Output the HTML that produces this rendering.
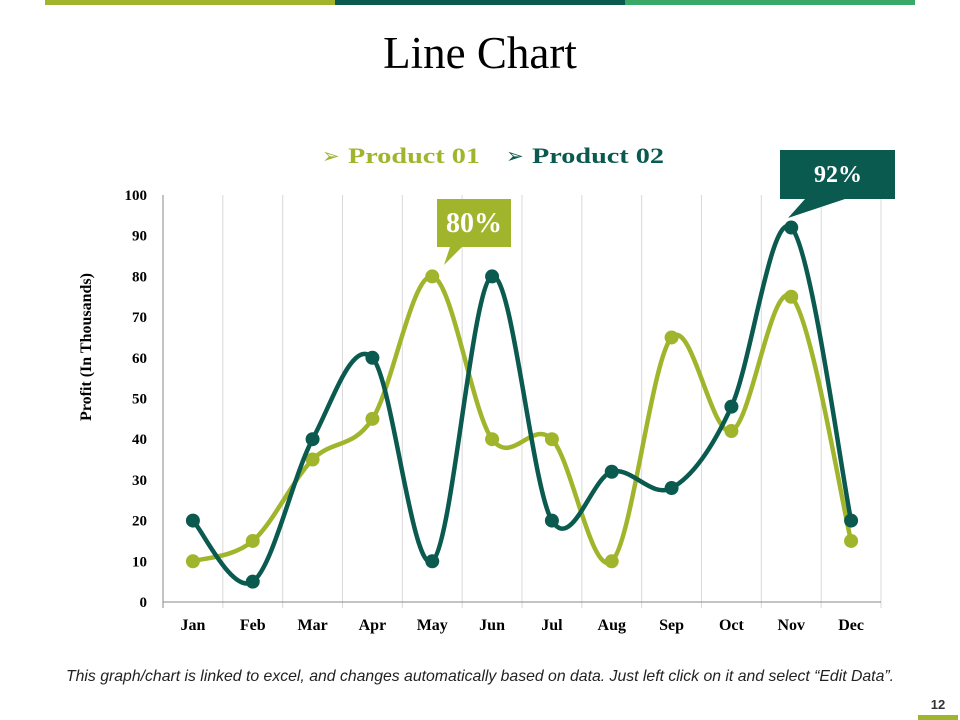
<!DOCTYPE html>
<html><head><meta charset="utf-8"><style>
body{margin:0;width:960px;height:720px;background:#fff;overflow:hidden;font-family:"Liberation Serif",serif;position:relative}
.abs{position:absolute}
</style></head><body>
<div class="abs" style="left:45px;top:0;width:290px;height:5px;background:#a1b52c"></div>
<div class="abs" style="left:335px;top:0;width:290px;height:5px;background:#0b5a50"></div>
<div class="abs" style="left:625px;top:0;width:290px;height:5px;background:#3aa866"></div>
<div class="abs" style="left:0;width:960px;top:27px;text-align:center;font-size:45px;color:#000">Line Chart</div>
<svg class="abs" style="left:0;top:0" width="960" height="720" id="chart"></svg>
<div class="abs" style="left:0;width:960px;top:668px;text-align:center;font-family:'Liberation Sans',sans-serif;font-style:italic;font-size:15.8px;color:#222;white-space:nowrap">This graph/chart is linked to excel, and changes automatically based on data. Just left click on it and select “Edit Data”.</div>
<div class="abs" style="left:918px;width:40px;top:697px;text-align:center;font-family:'Liberation Sans',sans-serif;font-weight:bold;font-size:13px;color:#333">12</div>
<div class="abs" style="left:918px;top:715px;width:40px;height:5px;background:#a1b52c"></div>
<script>
const categories=["Jan","Feb","Mar","Apr","May","Jun","Jul","Aug","Sep","Oct","Nov","Dec"];
const product01=[10,15,35,45,80,40,40,10,65,42,75,15];
const product02=[20,5,40,60,10,80,20,32,28,48,92,20];
const yTicks=[0,10,20,30,40,50,60,70,80,90,100];
const NS="http://www.w3.org/2000/svg";
const svg=document.getElementById('chart');
const X0=163,X1=881,Y0=602,Y1=195;
const bw=(X1-X0)/categories.length;
const x=i=>X0+bw*(i+0.5);
const y=v=>Y0-(v/100)*(Y0-Y1);
function mk(t,a){const e=document.createElementNS(NS,t);for(const k in a)e.setAttribute(k,a[k]);svg.appendChild(e);return e;}
for(let i=0;i<=categories.length;i++){
 const g=mk('line',{x1:X0+bw*i,x2:X0+bw*i,y1:Y1,y2:Y0+6,stroke:i==0?'#888':'#d9d9d9','stroke-width':1});
 
 
}
const ax=mk('line',{x1:X0,x2:X1,y1:Y0,y2:Y0,stroke:'#888'});


yTicks.forEach(v=>{const t=mk('text',{x:147,y:y(v)+5,'text-anchor':'end','font-size':15,'font-weight':'bold','font-family':'Liberation Serif, serif'});t.textContent=v;
 
 });
categories.forEach((c,i)=>{const t=mk('text',{x:x(i),y:630,'text-anchor':'middle','font-size':16,'font-weight':'bold','font-family':'Liberation Serif, serif'});t.textContent=c;
 
 });
const yt=mk('text',{x:0,y:0,transform:'translate(91,347) rotate(-90)','text-anchor':'middle','font-size':16,'font-weight':'bold','font-family':'Liberation Serif, serif'});
yt.textContent='Profit (In Thousands)';


function path(vals){
 const p=vals.map((v,i)=>[x(i),y(v)]);let d=`M${p[0][0]},${p[0][1]}`;
 for(let i=0;i<p.length-1;i++){const a=p[i-1]||p[i],b=p[i],c=p[i+1],e=p[i+2]||c;
  d+=` C${b[0]+(c[0]-a[0])/6},${b[1]+(c[1]-a[1])/6} ${c[0]-(e[0]-b[0])/6},${c[1]-(e[1]-b[1])/6} ${c[0]},${c[1]}`;}
 return d;}
[[product01,'#a1b52c','product-01'],[product02,'#0b5a50','product-02']].forEach(([vals,col,n])=>{
 const l=mk('path',{d:path(vals),fill:'none',stroke:col,'stroke-width':4.5});
 
 
 vals.forEach((v,i)=>{const c=mk('circle',{cx:x(i),cy:y(v),r:7,fill:col});
  
  });
});
function leg(lx,txt,col,n){
 const a=mk('text',{x:lx,y:163,'font-size':21,fill:col,'font-family':'DejaVu Sans, sans-serif'});a.textContent='➢';
 
 
 const t=mk('text',{x:lx+26,y:163,'font-size':22,'font-weight':'bold',fill:col,'font-family':'Liberation Serif, serif',textLength:132,lengthAdjust:'spacingAndGlyphs'});t.textContent=txt;
 
 }
leg(322,'Product 01','#a1b52c','legend-product-01');
leg(506,'Product 02','#0b5a50','legend-product-02');
const c1=mk('path',{d:'M437,199 H511 V247 H462 L444,265 L450,247 H437 Z',fill:'#a1b52c'});


const t1=mk('text',{x:474,y:232,'text-anchor':'middle','font-size':28,'font-weight':'bold',fill:'#fff','font-family':'Liberation Serif, serif'});t1.textContent='80%';


const c2=mk('path',{d:'M780,150 H895 V199 H845 L788,218 L805,199 H780 Z',fill:'#0b5a50'});


const t2=mk('text',{x:838,y:182,'text-anchor':'middle','font-size':24,'font-weight':'bold',fill:'#fff','font-family':'Liberation Serif, serif'});t2.textContent='92%';


</script>
</body></html>
